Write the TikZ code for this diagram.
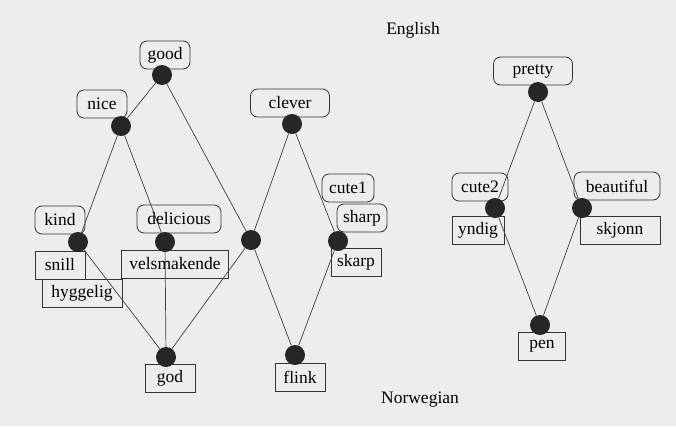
\documentclass[tikz,border=0pt]{standalone}
\usepackage{fontspec}
\setmainfont{Liberation Serif}

\begin{document}
\begin{tikzpicture}[x=1pt, y=-1pt,
  font=\fontsize{17.5}{20}\selectfont,
  dot/.style={shape=circle, fill=black!85, minimum size=20pt, inner sep=0pt},
  eng/.style={draw=black!80, line width=0.8pt, rounded corners=7pt, minimum height=28pt, minimum width=50pt, inner xsep=6pt, inner ysep=0pt},
  nor/.style={draw=black!80, line width=0.8pt, minimum height=28pt, minimum width=50pt, inner xsep=6pt, inner ysep=0pt},
  link/.style={draw=black!75, line width=0.7pt}]
\fill[black!7] (0,0) rectangle (676,426);
\useasboundingbox (0,0) rectangle (676,426);
\node (en) at (413,30) {English};
\node (no) at (420,400) {Norwegian};
% english labels
\node[eng] (Lgood) at (165,55) {good};
\node[eng] (Lnice) at (102,104) {nice};
\node[eng, minimum width=79pt] (Lclever) at (290,103) {clever};
\node[eng] (Lkind) at (60,220) {kind};
\node[eng, minimum width=84pt] (Ldel) at (179,219) {delicious};
\node[eng, minimum width=52pt] (Lcute1) at (348,188) {cute1};
\node[eng] (Lsharp) at (362,218) {sharp};
\node[eng, minimum width=79pt] (Lpretty) at (533,71) {pretty};
\node[eng, minimum width=56pt] (Lcute2) at (480,187) {cute2};
\node[eng, minimum width=86pt] (Lbeau) at (617,186) {beautiful};
% norwegian labels
\node[nor] (Lsnill) at (60,265) {snill};
\node[nor, minimum width=107pt] (Lvels) at (175,264) {velsmakende};
\node[nor, minimum width=80pt] (Lhygg) at (82,293) {hyggelig};
\node[nor] (Lskarp) at (356,262) {skarp};
\node[nor] (Lgod) at (170,378) {god};
\node[nor] (Lflink) at (300,377) {flink};
\node[nor] (Lyndig) at (478,230) {yndig};
\node[nor, minimum width=80pt] (Lskjonn) at (620,230) {skjonn};
\node[nor, minimum width=47pt] (Lpen) at (542,346) {pen};
% concepts
\node[dot] (good) at (162,75) {};
\node[dot] (nice) at (121,126) {};
\node[dot] (clever) at (292,124) {};
\node[dot] (kind) at (78,242) {};
\node[dot] (del) at (165,242) {};
\node[dot] (mid) at (251,240) {};
\node[dot] (sharp) at (338,241) {};
\node[dot] (god) at (166,357) {};
\node[dot] (flink) at (295,355) {};
\node[dot] (pretty) at (538,92) {};
\node[dot] (cute2) at (495,208) {};
\node[dot] (beau) at (582,208) {};
\node[dot] (pen) at (540,325) {};
\path[link] (good) edge (nice);
\path[link] (good) edge (mid);
\path[link] (nice) edge (kind);
\path[link] (nice) edge (del);
\path[link] (clever) edge (mid);
\path[link] (clever) edge (sharp);
\path[link] (kind) edge (god);
\path[link] (del) edge (god);
\path[link] (mid) edge (god);
\path[link] (mid) edge (flink);
\path[link] (sharp) edge (flink);
\path[link] (pretty) edge (cute2);
\path[link] (pretty) edge (beau);
\path[link] (cute2) edge (pen);
\path[link] (beau) edge (pen);
\end{tikzpicture}
\end{document}
